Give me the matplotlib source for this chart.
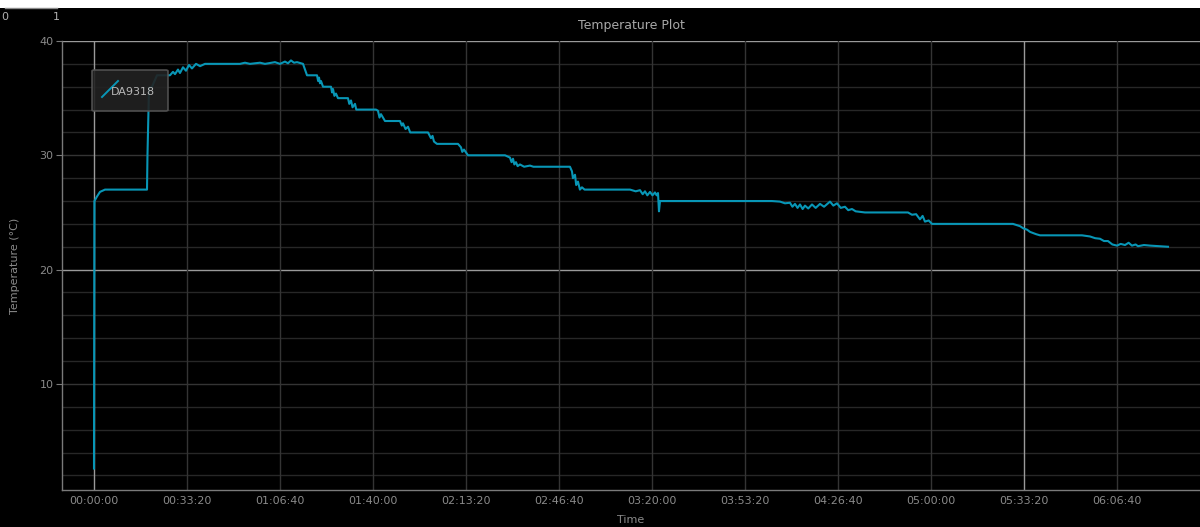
import matplotlib
matplotlib.use("Agg")
import matplotlib.pyplot as plt
from matplotlib.ticker import FixedLocator, FuncFormatter
from matplotlib.patches import Rectangle, FancyBboxPatch
from matplotlib.lines import Line2D

# ---- data: (seconds since start, degC) ----
warmup = [(0, 2.6), (10, 26.0), (65, 26.4), (129, 26.8), (237, 27.0), (1140, 27.0),
          (1150, 30.0), (1183, 35.9), (1247, 36.0), (1355, 37.0), (1634, 37.0),
          (1699, 37.3), (1742, 37.1), (1806, 37.5), (1849, 37.2), (1914, 37.7),
          (1978, 37.4), (2043, 37.9), (2107, 37.6), (2194, 38.0), (2280, 37.8),
          (2387, 38.0), (2495, 38.0)]
plateau = [(3140, 38.0), (3247, 38.1), (3355, 38.0), (3570, 38.1), (3677, 38.0),
           (3892, 38.15), (4000, 38.0), (4107, 38.2), (4172, 38.05), (4236, 38.3),
           (4301, 38.1), (4366, 38.15), (4495, 38.0)]
cooldown_1 = [(4581, 37.0), (4796, 37.0), (4820, 36.5), (4839, 36.8), (4860, 36.3),
              (4882, 36.5), (4925, 36.0), (5097, 36.0), (5120, 35.5), (5140, 35.8),
              (5170, 35.2), (5204, 35.4), (5247, 35.0), (5462, 35.0), (5490, 34.5),
              (5527, 34.8), (5560, 34.2), (5613, 34.5), (5640, 34.0), (5677, 34.0),
              (6064, 34.0), (6107, 33.9), (6140, 33.3), (6172, 33.6), (6258, 33.0),
              (6581, 33.0), (6620, 32.6), (6645, 32.8), (6700, 32.3), (6753, 32.5),
              (6800, 32.0), (6839, 32.0), (7183, 32.0), (7247, 31.5), (7280, 31.7),
              (7312, 31.2), (7376, 31.0), (7828, 31.0), (7892, 30.7), (7920, 30.3),
              (7957, 30.5), (8043, 30.0), (8839, 30.0), (8946, 29.8), (8980, 29.4),
              (9011, 29.7), (9040, 29.2), (9075, 29.4), (9110, 29.05), (9161, 29.2),
              (9250, 29.0), (9376, 29.1), (9450, 29.0), (9591, 29.0), (10236, 29.0),
              (10279, 28.6), (10300, 28.0), (10344, 28.3), (10370, 27.4), (10408, 27.7),
              (10450, 27.0), (10494, 27.2), (10550, 27.0)]
cooldown_2 = [(11527, 27.0), (11650, 26.85), (11742, 26.95), (11800, 26.6),
              (11849, 26.85), (11900, 26.5), (11957, 26.8), (12010, 26.5),
              (12064, 26.75), (12100, 26.5), (12129, 26.7), (12150, 25.1),
              (12172, 26.0), (14580, 26.0), (14753, 25.95), (14860, 25.8),
              (14967, 25.85), (15020, 25.5), (15075, 25.75), (15130, 25.4),
              (15183, 25.7), (15240, 25.3), (15290, 25.6), (15360, 25.35),
              (15441, 25.7), (15520, 25.4), (15613, 25.75), (15700, 25.5),
              (15828, 25.95), (15900, 25.6), (15978, 25.8), (16060, 25.4),
              (16150, 25.5), (16220, 25.2), (16301, 25.3), (16380, 25.1),
              (16473, 25.05), (16580, 25.0), (16688, 25.0), (17505, 25.0),
              (17591, 24.8), (17680, 24.85), (17763, 24.4), (17820, 24.7),
              (17871, 24.2), (17950, 24.3), (18021, 24.0), (18129, 24.0),
              (19763, 24.0), (19914, 23.8), (19990, 23.6), (20064, 23.5),
              (20130, 23.3), (20193, 23.2), (20260, 23.1), (20344, 23.0),
              (21247, 23.0), (21419, 22.9), (21530, 22.75), (21634, 22.7),
              (21720, 22.5), (21806, 22.5), (21900, 22.2), (22000, 22.1),
              (22080, 22.25), (22172, 22.15), (22250, 22.35), (22322, 22.1),
              (22400, 22.2), (22451, 22.05), (22580, 22.15), (22710, 22.1),
              (22900, 22.05), (23097, 22.0)]

series_name = "DA9318"
x_ticks = [0, 2000, 4000, 6000, 8000, 10000, 12000, 14000, 16000, 18000, 20000, 22000]
y_ticks = [10, 20, 30, 40]
y_minor = [2, 4, 6, 8, 12, 14, 16, 18, 22, 24, 26, 28, 32, 34, 36, 38]

readings = warmup + plateau + cooldown_1 + cooldown_2
time_s = [p[0] for p in readings]
temp_c = [p[1] for p in readings]

W, H = 1200, 527
fig = plt.figure(figsize=(W / 100, H / 100), dpi=100, facecolor="black")
ax = fig.add_axes([62 / W, 1 - 490 / H, (W - 62) / W, (490 - 41) / H])
ax.set_facecolor("black")

line_color = "#0896b6"
grid_dim = "#272727"
grid_mid = "#343434"
grid_bright = "#9a9a9a"
text_col = "#8a8a8a"

for yv in y_minor:
    ax.axhline(yv, color=grid_dim, lw=1.0, zorder=0)
for yv in y_ticks:
    ax.axhline(yv, color=grid_bright if yv in (20, 40) else grid_mid, lw=1.0, zorder=0)
for xv in x_ticks:
    ax.axvline(xv, color=grid_bright if xv in (0, 20000) else grid_mid, lw=1.0, zorder=0)

ax.plot(time_s, temp_c, color=line_color, lw=1.5, zorder=3)

ax.set_xlim(-688, 23785)
ax.set_ylim(0.72, 40)

def hms(v, pos):
    v = int(round(v))
    return "%02d:%02d:%02d" % (v // 3600, (v % 3600) // 60, v % 60)

ax.xaxis.set_major_locator(FixedLocator(x_ticks))
ax.xaxis.set_major_formatter(FuncFormatter(hms))
ax.yaxis.set_major_locator(FixedLocator(y_ticks))
ax.tick_params(axis="x", colors="#7a7a7a", labelcolor=text_col, labelsize=8,
               length=0, pad=4)
ax.tick_params(axis="y", colors="#7a7a7a", labelcolor=text_col, labelsize=8,
               length=4, pad=2)

for s in ("top", "right"):
    ax.spines[s].set_visible(False)
for s in ("left", "bottom"):
    ax.spines[s].set_color("#7a7a7a")
    ax.spines[s].set_linewidth(1.0)

ax.set_xlabel("Time", color=text_col, fontsize=8, va="center")
ax.set_ylabel("Temperature (°C)", color=text_col, fontsize=8, va="center")
ax.xaxis.set_label_coords(0.5, -(520 - 490) / 449)
ax.yaxis.set_label_coords(-(62 - 15) / 1138, 0.5)
fig.text((62 + W) / 2 / W, 1 - 25 / H, "Temperature Plot", color="#a8a8a8",
         fontsize=9, ha="center", va="center")

# legend box (pyqtgraph style)
fig.add_artist(FancyBboxPatch((92 / W, 1 - 111 / H), 76 / W, 41 / H,
                              boxstyle="round,pad=0,rounding_size=0.002",
                              transform=fig.transFigure, facecolor="#222222",
                              edgecolor="#555555", lw=1.2, alpha=0.9, zorder=10))
fig.add_artist(Line2D([102 / W, 118 / W], [1 - 97 / H, 1 - 81 / H],
                      transform=fig.transFigure, color=line_color, lw=1.4, zorder=11))
fig.text(111 / W, 1 - 92 / H, series_name, color="#b8b8b8", fontsize=8,
         ha="left", va="center", zorder=12)

# top strip artefacts
fig.add_artist(Rectangle((0, 1 - 8 / H), 1, 8 / H, transform=fig.transFigure,
                         facecolor="white", edgecolor="none", zorder=20))
fig.add_artist(Line2D([5 / W, 57 / W], [1 - 8 / H, 1 - 8 / H], transform=fig.transFigure,
                      color="#8a8a8a", lw=1, zorder=21))
fig.text(1 / W, 1 - 17 / H, "0", color="#b0b0b0", fontsize=8, ha="left", va="center")
fig.text(56 / W, 1 - 17 / H, "1", color="#b0b0b0", fontsize=8, ha="center", va="center")

fig.savefig("out.png", dpi=100, facecolor="black")
